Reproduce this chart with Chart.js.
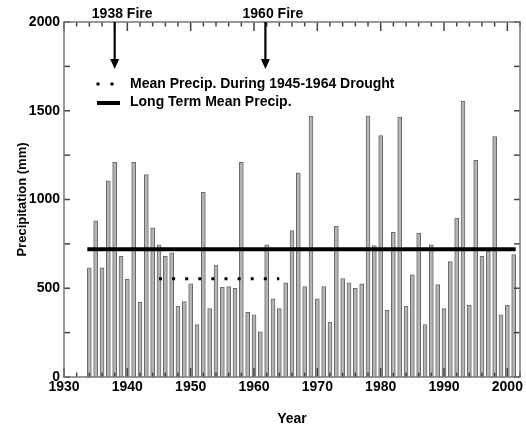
<!DOCTYPE html>
<html><head><meta charset="utf-8">
<script src="https://cdn.jsdelivr.net/npm/chart.js@4/dist/chart.umd.min.js"></script>
<style>html,body{margin:0;padding:0;background:#fff}</style>
</head><body>
<canvas id="c" width="526" height="426"></canvas>
<script>
// ---- data ----
const years = [1934,1935,1936,1937,1938,1939,1940,1941,1942,1943,1944,1945,1946,1947,1948,1949,
  1950,1951,1952,1953,1954,1955,1956,1957,1958,1959,1960,1961,1962,1963,1964,1965,1966,1967,1968,1969,
  1970,1971,1972,1973,1974,1975,1976,1977,1978,1979,1980,1981,1982,1983,1984,1985,1986,1987,1988,1989,
  1990,1991,1992,1993,1994,1995,1996,1997,1998,1999,2000,2001];
const precip = [615,880,615,1105,1210,680,550,1210,420,1140,840,745,680,700,400,425,
  525,295,1040,385,630,505,510,500,1210,365,350,255,745,440,385,530,825,1150,510,1470,
  440,510,310,850,555,530,500,525,1470,740,1360,375,815,1465,400,575,810,295,745,520,
  385,650,895,1555,405,1220,680,710,1355,350,405,690];
const longTermMean = 720;
const longTermYears = [1934, 2001];
const droughtMean = 553;
const droughtYears = [1945, 1964];
const fireYears = [1938, 1961.8];
const fireLabels = ['1938 Fire', '1960 Fire'];
const fireArrowTip = 1735;
const legendLabels = ['Mean Precip. During 1945-1964 Drought', 'Long Term Mean Precip.'];
const xRange = [1930, 2002];
const yRange = [0, 2000];
const xLabelStep = 10, xMinorStep = 2;
const yLabelStep = 500, yMinorStep = 250;

const FONT = "'Liberation Sans', Arial, Helvetica, sans-serif";
Chart.defaults.font.family = FONT;
Chart.defaults.color = '#000';

function seg(ctx, x1, y1, x2, y2) { ctx.beginPath(); ctx.moveTo(x1, y1); ctx.lineTo(x2, y2); ctx.stroke(); }

const decor = {
  id: 'decor',
  afterDraw(chart) {
    const { ctx, chartArea: a, scales: { x, y } } = chart;
    ctx.save();
    // inward tick marks
    ctx.strokeStyle = '#444'; ctx.lineWidth = 1.5;
    for (let v = xRange[0]; v <= xRange[1]; v += xMinorStep) {
      const px = x.getPixelForValue(v);
      const len = (v % xLabelStep === 0) ? 9 : 4.5;
      seg(ctx, px, a.bottom, px, a.bottom - len);
      seg(ctx, px, a.top, px, a.top + len);
    }
    for (let v = yRange[0]; v <= yRange[1]; v += yMinorStep) {
      const py = y.getPixelForValue(v);
      seg(ctx, a.left, py, a.left + 6, py);
      seg(ctx, a.right, py, a.right - 6, py);
    }
    // frame
    ctx.strokeStyle = '#777'; ctx.lineWidth = 1.5;
    ctx.strokeRect(a.left, a.top, a.right - a.left, a.bottom - a.top);

    // fire arrows
    ctx.fillStyle = '#000'; ctx.strokeStyle = '#000';
    ctx.font = 'bold 14px ' + FONT; ctx.textAlign = 'center'; ctx.textBaseline = 'middle';
    fireYears.forEach((yr, i) => {
      const px = x.getPixelForValue(yr);
      const top = y.getPixelForValue(yRange[1]);
      const tip = y.getPixelForValue(fireArrowTip);
      ctx.lineWidth = 2.2;
      seg(ctx, px, top, px, tip - 8);
      ctx.beginPath(); ctx.moveTo(px - 4.5, tip - 10); ctx.lineTo(px + 4.5, tip - 10); ctx.lineTo(px, tip); ctx.closePath(); ctx.fill();
      ctx.fillText(fireLabels[i], px + 7.5, top - 8);
    });

    // legend
    const lx = a.left, ly = a.top;
    ctx.fillRect(lx + 32.5, ly + 60.5, 3, 3);
    ctx.fillRect(lx + 46.5, ly + 60.5, 3, 3);
    ctx.lineWidth = 4; seg(ctx, lx + 33, ly + 81, lx + 56, ly + 81);
    ctx.textAlign = 'left';
    ctx.fillText(legendLabels[0], lx + 66, ly + 62);
    ctx.fillText(legendLabels[1], lx + 66, ly + 80.5);
    ctx.restore();
  }
};

new Chart(document.getElementById('c'), {
  type: 'bar',
  data: {
    datasets: [
      { type: 'line', data: longTermYears.map(v => ({ x: v, y: longTermMean })),
        borderColor: '#000', borderWidth: 4, borderCapStyle: 'square', pointRadius: 0, fill: false, order: 0 },
      { type: 'line', data: droughtYears.map(v => ({ x: v, y: droughtMean })),
        borderColor: '#000', borderWidth: 3, borderDash: [3, 10.1], borderCapStyle: 'butt', pointRadius: 0, fill: false, order: 0 },
      { type: 'bar', data: years.map((yr, i) => ({ x: yr, y: precip[i] })),
        backgroundColor: '#b4b4b4', borderColor: '#6a6a6a', borderWidth: 1, barThickness: 4, order: 1 }
    ]
  },
  options: {
    responsive: false, animation: false,
    events: [],
    layout: { padding: { top: 22, right: 3, left: 0, bottom: 0 } },
    plugins: { legend: { display: false }, tooltip: { enabled: false } },
    scales: {
      x: {
        type: 'linear', min: xRange[0], max: xRange[1], offset: false,
        grid: { display: false, drawTicks: false }, border: { display: false },
        ticks: { stepSize: xLabelStep, includeBounds: false, padding: 3, maxRotation: 0,
          font: { size: 14, weight: 'bold', lineHeight: 1 }, callback: v => String(v) },
        title: { display: true, text: 'Year', font: { size: 14, weight: 'bold', lineHeight: 1 }, padding: { top: 0, bottom: 0 } },
        afterFit: s => { s.height = 49; }
      },
      y: {
        type: 'linear', min: yRange[0], max: yRange[1],
        grid: { display: false, drawTicks: false }, border: { display: false },
        ticks: { stepSize: yLabelStep, padding: 4, font: { size: 14, weight: 'bold', lineHeight: 1 }, callback: v => String(v) },
        title: { display: true, text: 'Precipitation (mm)', font: { size: 13, weight: 'bold' }, padding: { top: 15, bottom: 0 } },
        afterFit: s => { s.width = 64; }
      }
    }
  },
  plugins: [decor]
});
</script>
</body></html>
